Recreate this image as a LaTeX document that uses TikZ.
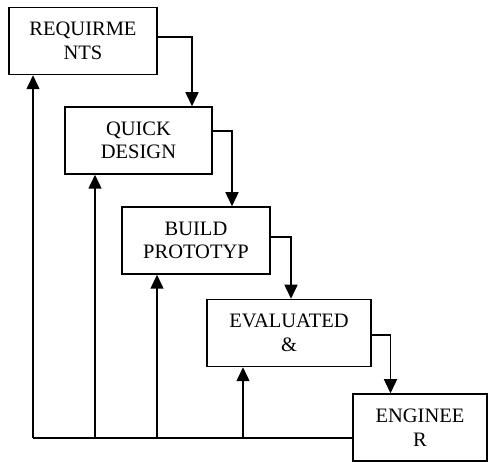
\documentclass[tikz,border=0pt]{standalone}
\usepackage{fontspec}
\setmainfont{Liberation Serif}
\usetikzlibrary{arrows.meta, calc}

\begin{document}
\begin{tikzpicture}[x=1pt, y=-1pt,
    box/.style={draw, line width=1.5pt, minimum height=67pt, align=center, inner sep=0pt,
        font=\fontsize{20.5}{23.5}\selectfont},
    arr/.style={line width=1.5pt, -{Triangle[width=13pt,length=14pt]}},
    feed/.style={line width=1.5pt}]
    \useasboundingbox (0,0) rectangle (488,462);

    % Phases
    \node[box, minimum width=148pt] (req) at (83,41) {REQUIRME\\NTS};
    \node[box, minimum width=147pt] (quick) at (138.5,140.5) {QUICK\\DESIGN};
    \node[box, minimum width=148pt] (build) at (196,240.5) {BUILD\\PROTOTYP};
    \node[box, minimum width=164pt] (eval) at (289,333) {EVALUATED\\\&};
    \node[box, minimum width=134pt] (eng) at (420,427.5) {ENGINEE\\R};

    % Forward flow
    \draw[arr] ([yshift=4pt]req.east) -| ([xshift=53.5pt]quick.north);
    \draw[arr] ([yshift=9.5pt]quick.east) -| ([xshift=36pt]build.north);
    \draw[arr] ([yshift=3.5pt]build.east) -| ([xshift=2pt]eval.north);
    \draw[arr] ([yshift=-2pt]eval.east) -| ([xshift=-29.5pt]eng.north);

    % Feedback
    \coordinate (fb) at (33,438);
    \coordinate (reqin) at ([xshift=-50pt]req.south);
    \coordinate (quickin) at ([xshift=-43.5pt]quick.south);
    \coordinate (buildin) at ([xshift=-39pt]build.south);
    \coordinate (evalin) at ([xshift=-46pt]eval.south);
    \draw[feed] (eng.west |- fb) -- (fb);
    \draw[arr] (fb) -- (reqin);
    \draw[arr] (quickin |- fb) -- (quickin);
    \draw[arr] (buildin |- fb) -- (buildin);
    \draw[arr] (evalin |- fb) -- (evalin);

\end{tikzpicture}
\end{document}
